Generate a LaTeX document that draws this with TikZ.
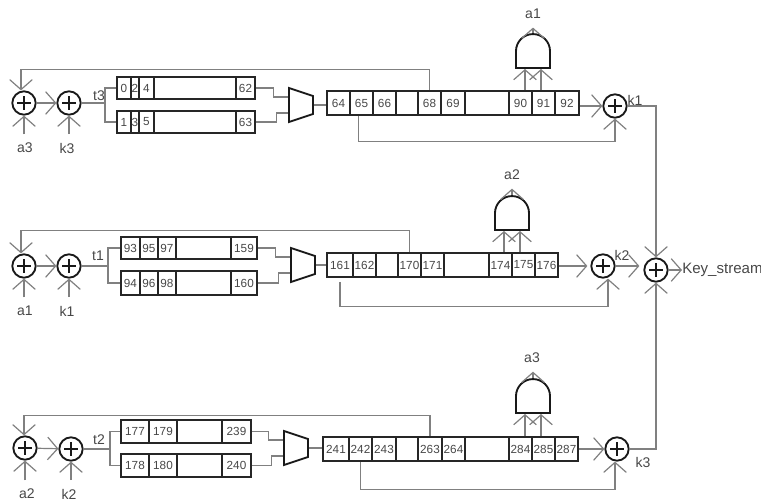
\documentclass[tikz,border=0pt]{standalone}
\usepackage{fontspec}
\setmainfont{Liberation Sans}
\usepackage{tikz}
\usetikzlibrary{shapes.geometric, shapes.misc, arrows.meta, calc}

\begin{document}
\begin{tikzpicture}[
    x=.75pt, y=-.75pt,
    every node/.style={font=\fontsize{10.5}{12}\selectfont, text=black!72},
    regcell/.style={rectangle, draw=black!85, line width=1.3pt, inner sep=0pt, font=\fontsize{8.8}{10}\selectfont},
    xorgate/.style={circle, draw=black!90, line width=1.4pt, minimum size=17.5pt, inner sep=0pt,
        path picture={\draw[line width=1.1pt, black!90]
            ([xshift=-5pt]path picture bounding box.center) -- ([xshift=5pt]path picture bounding box.center)
            ([yshift=-5pt]path picture bounding box.center) -- ([yshift=5pt]path picture bounding box.center);}},
    andgate/.style={rounded rectangle, rounded rectangle west arc=none, draw=black!90, line width=1.4pt, rotate=90, anchor=west,
        minimum width=18pt, minimum height=25.5pt, inner sep=0pt},
    muxgate/.style={trapezium, draw=black!90, line width=1.4pt, rotate=-90, trapezium left angle=66, trapezium right angle=66,
        trapezium stretches=true, text width=2pt, text height=2pt, minimum width=25.5pt, minimum height=18pt, inner sep=0pt},
    wire/.style={draw=black!50, line width=.9pt},
    sig/.style={wire, -{Straight Barb[length=7.5pt, width=17pt, line width=.9pt]}},
]

\useasboundingbox (0,0) rectangle (761,502);

\foreach \reg/\yt/\yb/\cells in {
    up1/77/99/{117/131/0, 131/139/2, 139/154/4, 154/236/{}, 236/255/62},
    lo1/111/133/{117/131/1, 131/139/3, 139/154/5, 154/236/{}, 236/255/63},
    big1/91/115/{327/350/64, 350/373/65, 373/396/66, 396/418/{}, 418/441/68, 441/465/69, 465/509/{}, 509/532/90, 532/555/91, 555/579/92},
    up2/237/259/{121/140/93, 140/158/95, 158/176/97, 176/231/{}, 231/257/159},
    lo2/271/295/{121/140/94, 140/158/96, 158/176/98, 176/231/{}, 231/257/160},
    big2/253/277/{327/353/161, 353/376/162, 376/398/{}, 398/421/170, 421/444/171, 444/489/{}, 489/512/174, 512/535/175, 535/558/176},
    up3/420/443/{121/149/177, 149/177/179, 177/222/{}, 222/251/239},
    lo3/454/477/{121/149/178, 149/177/180, 177/222/{}, 222/251/240},
    big3/437/461/{323/349/241, 349/372/242, 372/396/243, 396/418/{}, 418/442/263, 442/465/264, 465/509/{}, 509/532/284, 532/555/285, 555/578/287}%
} {
    \foreach \xa/\xb/\txt [count=\i] in \cells
        \node[regcell, minimum width={(\xb-\xa)*.75pt}, minimum height={(\yb-\yt)*.75pt}] (\reg-\i)
            at ({(\xa+\xb)/2},{(\yt+\yb)/2}) {\txt};
}

\node[xorgate] (xa1) at (24,103) {};
\node[xorgate] (xk1) at (69,103) {};
\node[xorgate] (xa2) at (24,266) {};
\node[xorgate] (xk2) at (69,266) {};
\node[xorgate] (xa3) at (25,448) {};
\node[xorgate] (xk3) at (71,449) {};
\node[xorgate] (xo1) at (615,106) {};
\node[xorgate] (xo2) at (603,266) {};
\node[xorgate] (xo3) at (617,449) {};
\node[xorgate] (xf) at (656,270) {};

\node[muxgate] (mux1) at (301,105) {};
\node[muxgate] (mux2) at (303,265) {};
\node[muxgate] (mux3) at (296,448) {};

\node[andgate] (and1) at (533,69) {};
\node[andgate] (and2) at (512,231) {};
\node[andgate] (and3) at (533,414) {};

\node (ina1) at (25,148) {a3};
\node (ink1) at (67,148) {k3};
\node (ina2) at (25,311) {a1};
\node (ink2) at (67,311) {k1};
\node (ina3) at (27,494) {a2};
\node (ink3) at (69,494) {k2};
\node (out1) at (533,14) {a1};
\node (out2) at (512,175) {a2};
\node (out3) at (532,358) {a3};
\node at (99,96) {t3};
\node at (98,256) {t1};
\node at (99,440) {t2};
\node at (635,100) {k1};
\node at (622,255) {k2};
\node at (643,462) {k3};
\node[anchor=west, inner sep=0pt, font=\fontsize{11.3}{13}\selectfont] (ks) at (682,270) {Key\_stream};

\coordinate (tj1) at (105,103);
\coordinate (tj2) at (108,266);
\coordinate (tj3) at (110,449);

\draw[sig, shorten <=3pt] (ina1.north -| xa1) -- (xa1);
\draw[sig, shorten <=3pt] (ink1.north -| xk1) -- (xk1);
\draw[sig, shorten <=3pt] (ina2.north -| xa2) -- (xa2);
\draw[sig, shorten <=3pt] (ink2.north -| xk2) -- (xk2);
\draw[sig, shorten <=3pt] (ina3.north -| xa3) -- (xa3);
\draw[sig, shorten <=3pt] (ink3.north -| xk3) -- (xk3);
\draw[sig] (xa1) -- (xk1);
\draw[sig] (xa2) -- (xk2);
\draw[sig] (xa3) -- (xk3);

\draw[wire] (xk1.east) -- (tj1) |- (up1-1.west);
\draw[wire] (tj1) |- (lo1-1.west);
\draw[wire] (xk2.east) -- (tj2) |- (up2-1.west);
\draw[wire] (tj2) |- (lo2-1.west);
\draw[wire] (xk3.east) -- (tj3) |- (up3-1.west);
\draw[wire] (tj3) |- (lo3-1.west);

\draw[wire] (up1-5.east) -- ++(18,0) |- ($(mux1.south)+(0,-8)$);
\draw[wire] (lo1-5.east) -- ++(21,0) |- ($(mux1.south)+(0,8)$);
\draw[wire] (up2-5.east) -- ++(18,0) |- ($(mux2.south)+(0,-8)$);
\draw[wire] (lo2-5.east) -- ++(21,0) |- ($(mux2.south)+(0,8)$);
\draw[wire] (up3-4.east) -- ++(17,0) |- ($(mux3.south)+(0,-8)$);
\draw[wire] (lo3-4.east) -- ++(20,0) |- ($(mux3.south)+(0,8)$);
\draw[wire] (mux1.north) -- (mux1.north -| big1-1.west);
\draw[wire] (mux2.north) -- (mux2.north -| big2-1.west);
\draw[wire] (mux3.north) -- (mux3.north -| big3-1.west);

\draw[sig] (big1-5.north) -- ++(0,-21) -| ($(xa1.north)+(-3,0)$);
\draw[sig] (big2-4.north) -- ++(0,-22) -| ($(xa2.north)+(-3,0)$);
\draw[sig] (big3-5.north) -- ++(0,-21) -| ($(xa3.north)+(-1,0)$);

\draw[sig] ($(big1-8.north -| and1.west)+(-8,0)$) -- ($(and1.west)+(-8,0)$);
\draw[sig] ($(big1-9.north -| and1.west)+(8,0)$) -- ($(and1.west)+(8,0)$);
\draw[sig] ($(big2-7.north -| and2.west)+(-8,0)$) -- ($(and2.west)+(-8,0)$);
\draw[sig] ($(big2-8.north -| and2.west)+(8,0)$) -- ($(and2.west)+(8,0)$);
\draw[sig] ($(big3-8.north -| and3.west)+(-8,0)$) -- ($(and3.west)+(-8,0)$);
\draw[sig] ($(big3-9.north -| and3.west)+(8,0)$) -- ($(and3.west)+(8,0)$);
\draw[sig, shorten >=3pt] (and1.east) -- (and1.east |- out1.south);
\draw[sig, shorten >=3pt] (and2.east) -- (and2.east |- out2.south);
\draw[sig, shorten >=3pt] (and3.east) -- (and3.east |- out3.south);

\draw[sig] (big1-10.east |- xo1) -- (xo1);
\draw[sig] (big2-9.east |- xo2) -- ($(xo2.west)+(-3,0)$);
\draw[sig] (big3-10.east |- xo3) -- (xo3);
\draw[sig] ($(big1-2.south)+(-3,0)$) -- ++(0,26) -| (xo1.south);
\draw[sig, shorten <=3pt] (big2-1.south) -- ++(0,29) -| ($(xo2.south)+(5,0)$);
\draw[sig] (big3-2.south) -- ++(0,28) -| ($(xo3.south)+(-2,0)$);

\draw[sig] (xo1.east) -| (xf.north);
\draw[sig] (xo2.east) -- ($(xo2.east -| xf.west)+(-4,0)$);
\draw[sig] (xo3.east) -| (xf.south);
\draw[sig] (xf.east) -- (ks.west);
\end{tikzpicture}
\end{document}
